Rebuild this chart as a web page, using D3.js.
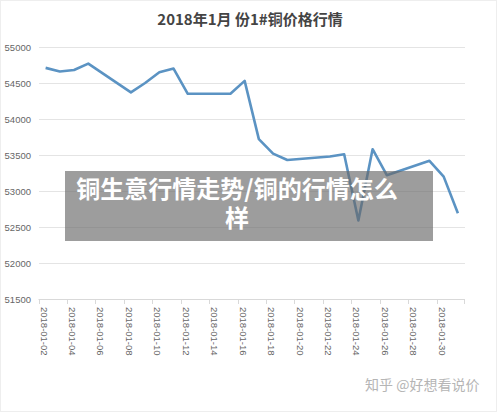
<!DOCTYPE html>
<head>
    <meta charset="utf-8">
</head>
<style>
    body {
      margin: 0;
      background: #fff;
    }
    .tick text {
      font-family: "Liberation Sans", sans-serif;
      font-size: 9.5px;
      fill: #666;
    }
    .grid line {
      stroke: #e4e4e4;
      stroke-width: 1;
      shape-rendering: crispEdges;
    }
</style>
<body>
<script src="https://d3js.org/d3.v7.min.js"></script>
<script>

    // trading days and price of 1# copper, January 2018
    var dates = ["2018-01-02","2018-01-03","2018-01-04","2018-01-05","2018-01-08","2018-01-09",
                 "2018-01-10","2018-01-11","2018-01-12","2018-01-15","2018-01-16","2018-01-17",
                 "2018-01-18","2018-01-19","2018-01-22","2018-01-23","2018-01-24","2018-01-25",
                 "2018-01-26","2018-01-29","2018-01-30","2018-01-31"]
    var prices = [54710,54660,54680,54770,54370,54500,
                  54650,54700,54350,54350,54530,53720,
                  53520,53430,53480,53510,52590,53580,
                  53220,53420,53200,52690]
    var yTicks = [51500,52000,52500,53000,53500,54000,54500,55000]
    var xLabels = ["2018-01-02","2018-01-04","2018-01-06","2018-01-08","2018-01-10","2018-01-12",
                   "2018-01-14","2018-01-16","2018-01-18","2018-01-20","2018-01-22","2018-01-24",
                   "2018-01-26","2018-01-28","2018-01-30"]

    var width = 500, height = 413
    var plotLeft = 38.5, plotRight = 465, plotTop = 47, plotBottom = 299

    var fmt = d3.timeFormat("%Y-%m-%d")
    // date axis: every calendar day is a slot
    var days = d3.timeDay.range(new Date(2018, 0, 2), new Date(2018, 0, 32)).map(fmt)

    var x = d3.scaleBand()
        .domain(days)
        .range([plotLeft, plotRight])

    var y = d3.scaleLinear()
        .domain([51500, 55000])
        .range([plotBottom, plotTop])

    var svg = d3.select("body").append("svg")
        .attr("width", width)
        .attr("height", height)

    // faint frame of the picture
    svg.append("rect")
        .attr("x", 0.5).attr("y", 0.5)
        .attr("width", width - 4).attr("height", height - 2)
        .attr("fill", "none")
        .attr("stroke", "#eeeeee")

    svg.append("text")
        .attr("x", 250)
        .attr("y", 25)
        .attr("text-anchor", "middle")
        .style("font-family", "'Noto Sans CJK SC', sans-serif")
        .style("font-weight", "bold")
        .style("font-size", "15px")
        .style("fill", "#444")
        .text("2018年1月 份1#铜价格行情")

    // grid
    svg.append("g")
        .attr("class", "grid")
        .selectAll("line")
        .data(yTicks.slice(1))
      .enter().append("line")
        .attr("x1", plotLeft).attr("x2", plotRight)
        .attr("y1", function(d) { return Math.round(y(d)) + 0.5 })
        .attr("y2", function(d) { return Math.round(y(d)) + 0.5 })

    var yAxis = d3.axisLeft(y)
        .tickValues(yTicks)
        .tickSize(0)
        .tickPadding(0)
        .tickFormat(d3.format("d"))

    svg.append("g")
        .attr("transform", "translate(31,0)")
        .call(yAxis)
        .call(function(g) { g.select(".domain").remove() })

    // x axis line and ticks between slots
    svg.append("line")
        .attr("x1", plotLeft).attr("x2", plotRight)
        .attr("y1", plotBottom + 0.5).attr("y2", plotBottom + 0.5)
        .attr("stroke", "#d9d9d9")

    svg.append("g")
        .selectAll("line")
        .data(xLabels)
      .enter().append("line")
        .attr("x1", function(d) { return Math.round(x(d)) + 0.5 })
        .attr("x2", function(d) { return Math.round(x(d)) + 0.5 })
        .attr("y1", plotBottom).attr("y2", plotBottom + 5)
        .attr("stroke", "#d9d9d9")

    svg.append("line")
        .attr("x1", plotRight - 0.5).attr("x2", plotRight - 0.5)
        .attr("y1", plotBottom).attr("y2", plotBottom + 5)
        .attr("stroke", "#d9d9d9")

    svg.append("g")
        .selectAll("text")
        .data(xLabels)
      .enter().append("text")
        .attr("transform", function(d) {
            return "translate(" + (x(d) + x.bandwidth() / 2 - 5) + "," + (plotBottom + 8) + ") rotate(90)"
        })
        .style("font-family", "'Liberation Sans', sans-serif")
        .style("font-size", "9.5px")
        .style("fill", "#666")
        .text(function(d) { return d })

    var points = dates.map(function(d, i) { return {date: d, value: prices[i]} })

    var line = d3.line()
        .x(function(d) { return x(d.date) + x.bandwidth() / 2 })
        .y(function(d) { return y(d.value) })

    svg.append("path")
        .datum(points)
        .attr("d", line)
        .attr("fill", "none")
        .attr("stroke", "#5b93c3")
        .attr("stroke-width", 2.6)
        .attr("stroke-linejoin", "round")

    // grey caption overlay
    svg.append("rect")
        .attr("x", 65).attr("y", 171)
        .attr("width", 368).attr("height", 70)
        .attr("fill", "rgba(105,105,105,0.65)")

    var caption = svg.append("text")
        .attr("text-anchor", "middle")
        .style("font-family", "'Noto Sans CJK SC', sans-serif")
        .style("font-weight", "bold")
        .style("font-size", "24px")
        .style("fill", "#fff")

    caption.append("tspan").attr("x", 237).attr("y", 198).text("铜生意行情走势/铜的行情怎么")
    caption.append("tspan").attr("x", 237).attr("y", 227).text("样")

    // watermark
    svg.append("text")
        .attr("x", 365)
        .attr("y", 390)
        .style("font-family", "'Noto Sans CJK SC', sans-serif")
        .style("font-size", "14px")
        .style("fill", "#b5b5b5")
        .text("知乎 @好想看说价")

</script>
</body>
